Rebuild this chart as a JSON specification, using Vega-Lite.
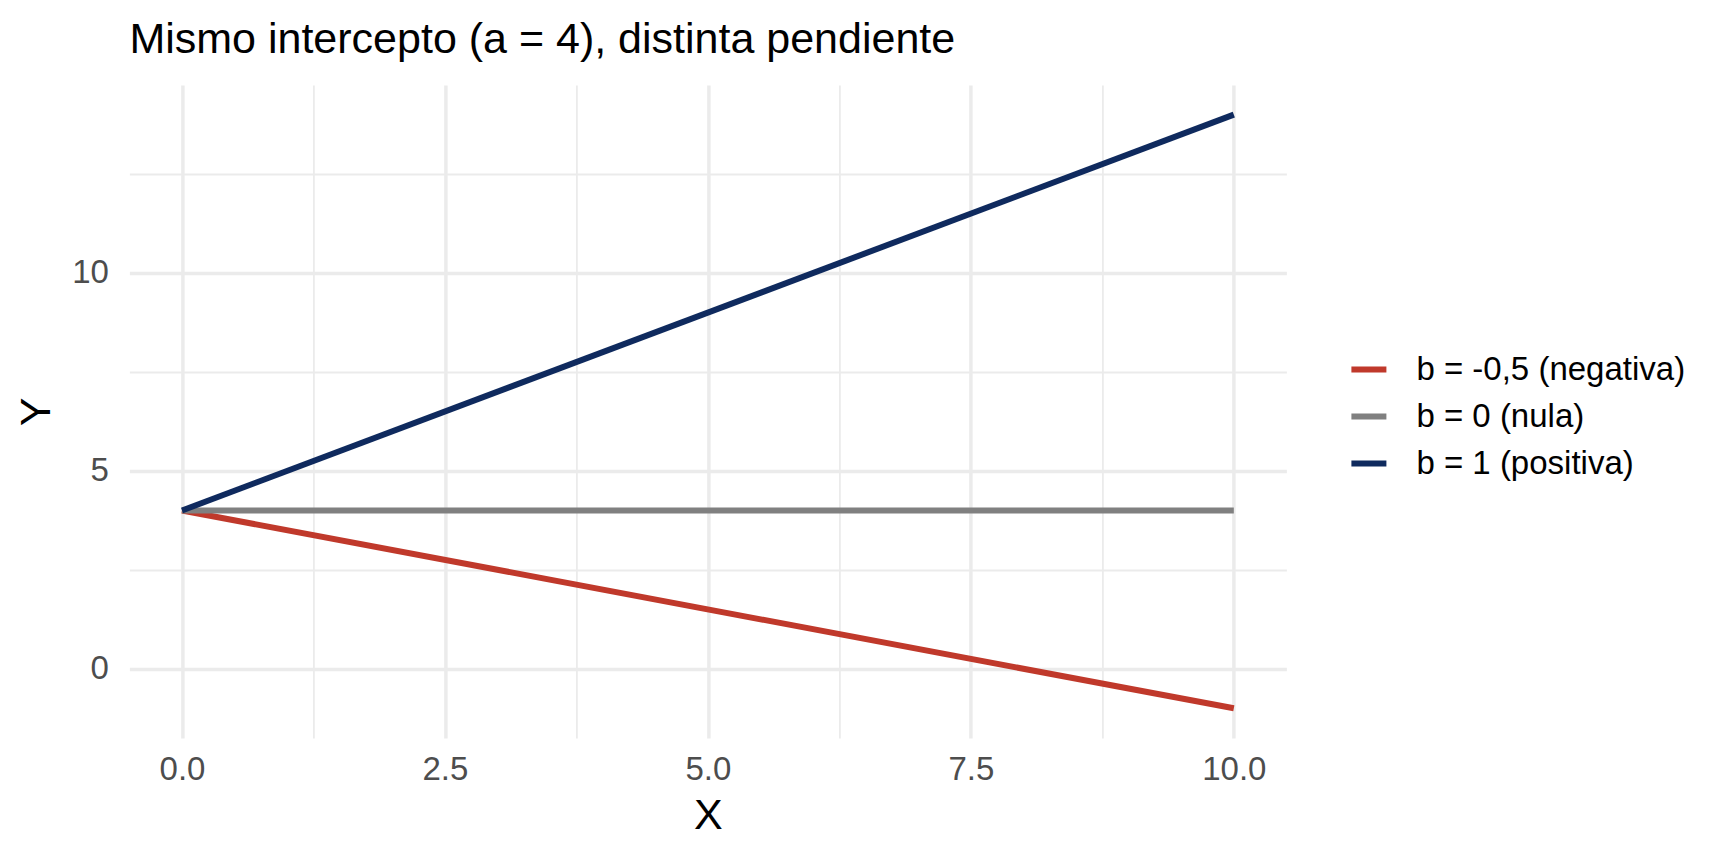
{
  "$schema": "https://vega.github.io/schema/vega-lite/v6.json",
  "width": 1157,
  "height": 653,
  "autosize": {"type": "none"},
  "padding": {"left": 129.4, "top": 85, "right": 441.6, "bottom": 126},
  "background": "white",
  "title": {
    "text": "Mismo intercepto (a = 4), distinta pendiente",
    "anchor": "start",
    "frame": "group",
    "baseline": "alphabetic",
    "offset": -11,
    "font": "Liberation Sans",
    "fontSize": 43,
    "fontWeight": "normal",
    "color": "black"
  },
  "config": {
    "view": {"stroke": null},
    "axis": {
      "domain": false,
      "ticks": false,
      "tickSize": 0,
      "gridColor": "#EBEBEB",
      "labelFont": "Liberation Sans",
      "labelFontSize": 33,
      "labelColor": "#4D4D4D",
      "titleFont": "Liberation Sans",
      "titleFontSize": 43,
      "titleFontWeight": "normal",
      "titleColor": "black"
    },
    "legend": {
      "labelFont": "Liberation Sans",
      "labelFontSize": 33,
      "labelColor": "black",
      "labelLimit": 0
    }
  },
  "data": {
    "values": [
      {"x": 0, "y": 4, "serie": "b = -0,5 (negativa)"},
      {"x": 10, "y": -1, "serie": "b = -0,5 (negativa)"},
      {"x": 0, "y": 4, "serie": "b = 0 (nula)"},
      {"x": 10, "y": 4, "serie": "b = 0 (nula)"},
      {"x": 0, "y": 4, "serie": "b = 1 (positiva)"},
      {"x": 10, "y": 14, "serie": "b = 1 (positiva)"}
    ]
  },
  "mark": {"type": "line", "strokeWidth": 6, "strokeCap": "butt"},
  "encoding": {
    "x": {
      "field": "x",
      "type": "quantitative",
      "title": "X",
      "scale": {"domain": [-0.5, 10.5], "nice": false, "zero": false},
      "axis": {
        "values": [0, 1.25, 2.5, 3.75, 5, 6.25, 7.5, 8.75, 10],
        "labelExpr": "datum.value % 2.5 === 0 ? format(datum.value, '.1f') : ''",
        "gridWidth": {"condition": {"test": "datum.value % 2.5 === 0", "value": 3.5}, "value": 1.8},
        "labelPadding": 15,
        "titlePadding": 8,
        "labelFlush": false,
        "labelOverlap": false
      }
    },
    "y": {
      "field": "y",
      "type": "quantitative",
      "title": "Y",
      "scale": {"domain": [-1.75, 14.75], "nice": false, "zero": false},
      "axis": {
        "values": [0, 2.5, 5, 7.5, 10, 12.5],
        "labelExpr": "datum.value % 5 === 0 ? format(datum.value, 'd') : ''",
        "gridWidth": {"condition": {"test": "datum.value % 5 === 0", "value": 3.5}, "value": 1.8},
        "labelPadding": 21,
        "titlePadding": 13,
        "labelFlush": false,
        "labelOverlap": false
      }
    },
    "color": {
      "field": "serie",
      "type": "nominal",
      "title": null,
      "scale": {
        "domain": ["b = -0,5 (negativa)", "b = 0 (nula)", "b = 1 (positiva)"],
        "range": ["#C0392B", "#808080", "#0F2A5E"]
      },
      "legend": {
        "orient": "none",
        "legendX": 1219,
        "legendY": 264,
        "padding": 0,
        "symbolType": "stroke",
        "symbolSize": 1225,
        "symbolStrokeWidth": 6,
        "labelOffset": 27,
        "rowPadding": 9
      }
    }
  }
}
